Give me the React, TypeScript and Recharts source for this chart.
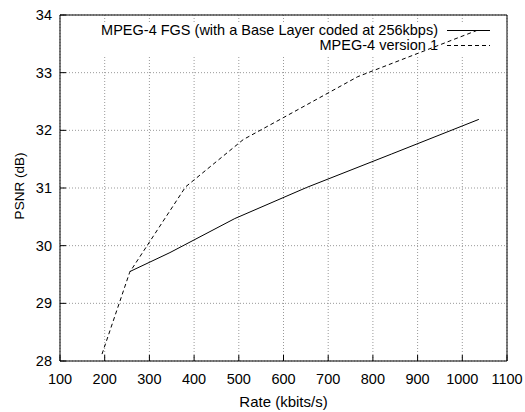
import { LineChart, Line, XAxis, YAxis, CartesianGrid, ReferenceArea } from "recharts"

// MPEG-4 FGS (base layer at 256kbps)
const fgsRate = [256, 346, 491, 652, 842, 1037]
const fgsPsnr = [29.55, 29.88, 30.47, 31.01, 31.59, 32.19]

// MPEG-4 version 1
const v1Rate = [194, 256, 381, 510, 595, 766, 1032]
const v1Psnr = [28.12, 29.54, 31.02, 31.84, 32.2, 32.93, 33.73]

const xTicks = [100, 200, 300, 400, 500, 600, 700, 800, 900, 1000, 1100]
const yTicks = [28, 29, 30, 31, 32, 33, 34]

const seriesNames = ["MPEG-4 FGS (with a Base Layer coded at 256kbps)", "MPEG-4 version 1"]
const seriesDash = ["", "4 3"]

// area of the key where gnuplot leaves out the grid (below the top tick marks)
const keyMaskX = [170, 1100]
const keyMaskY = [33.3, 33.88]

const font = "'Liberation Sans', Arial, Helvetica, sans-serif"

const fgsData = fgsRate.map((r, i) => ({ rate: r, psnr: fgsPsnr[i] }))
const v1Data = v1Rate.map((r, i) => ({ rate: r, psnr: v1Psnr[i] }))

function YLabel(props: any) {
  const { viewBox } = props
  const cx = viewBox.x + 19
  const cy = viewBox.y + viewBox.height / 2 - 2
  return (
    <text
      x={cx}
      y={cy}
      transform={`rotate(-90 ${cx} ${cy})`}
      textAnchor="middle"
      dominantBaseline="central"
      fontSize={13.5}
      fontFamily={font}
      fill="#000"
    >
      PSNR (dB)
    </text>
  )
}

export default function App() {
  return (
    <div style={{ position: "absolute", left: 0, top: 0, width: 525, height: 412, background: "#fff" }}>
      <LineChart width={525} height={412} margin={{ top: 0, right: 0, bottom: 0, left: 0 }}>
        <CartesianGrid stroke="#999" strokeDasharray="1 2" />
        <ReferenceArea
          x1={keyMaskX[0]}
          x2={keyMaskX[1]}
          y1={keyMaskY[0]}
          y2={keyMaskY[1]}
          fill="#fff"
          fillOpacity={1}
          stroke="none"
        />
        <XAxis
          dataKey="rate"
          type="number"
          domain={[100, 1100]}
          ticks={xTicks}
          allowDataOverflow
          height={51}
          tickSize={-6}
          tickMargin={19}
          axisLine={{ stroke: "#000" }}
          tickLine={{ stroke: "#000" }}
          tick={{ fill: "#000", fontSize: 14.5, fontFamily: font }}
          label={{ value: "Rate (kbits/s)", position: "insideBottom", offset: 5, fill: "#000", fontSize: 15, fontFamily: font }}
        />
        <XAxis
          xAxisId="top"
          orientation="top"
          type="number"
          domain={[100, 1100]}
          ticks={xTicks}
          height={15}
          tick={false}
          tickSize={-6}
          axisLine={{ stroke: "#000" }}
          tickLine={{ stroke: "#000" }}
        />
        <YAxis
          type="number"
          domain={[28, 34]}
          ticks={yTicks}
          allowDataOverflow
          width={60}
          tickSize={-6}
          tickMargin={14}
          axisLine={{ stroke: "#000" }}
          tickLine={{ stroke: "#000" }}
          tick={{ fill: "#000", fontSize: 14.5, fontFamily: font }}
          label={<YLabel />}
        />
        <YAxis
          yAxisId="right"
          orientation="right"
          type="number"
          domain={[28, 34]}
          ticks={yTicks}
          width={18}
          tick={false}
          tickSize={-6}
          axisLine={{ stroke: "#000" }}
          tickLine={{ stroke: "#000" }}
        />
        <Line
          data={fgsData}
          dataKey="psnr"
          name={seriesNames[0]}
          type="linear"
          stroke="#000"
          strokeWidth={1}
          dot={false}
          isAnimationActive={false}
        />
        <Line
          data={v1Data}
          dataKey="psnr"
          name={seriesNames[1]}
          type="linear"
          stroke="#000"
          strokeWidth={1}
          strokeDasharray={seriesDash[1]}
          dot={false}
          isAnimationActive={false}
        />
      </LineChart>
      <div style={{ position: "absolute", top: 23, right: 35, fontFamily: font, fontSize: 14.5, color: "#000" }}>
        {seriesNames.map((name, i) => (
          <div key={name} style={{ display: "flex", justifyContent: "flex-end", alignItems: "center", height: 14.5, lineHeight: "14.5px" }}>
            <span style={{ whiteSpace: "nowrap" }}>{name}</span>
            <svg width={43} height={14.5} style={{ marginLeft: 9 }}>
              <line x1={0} x2={43} y1={7.5} y2={7.5} stroke="#000" strokeWidth={1} strokeDasharray={seriesDash[i] || undefined} />
            </svg>
          </div>
        ))}
      </div>
    </div>
  )
}
